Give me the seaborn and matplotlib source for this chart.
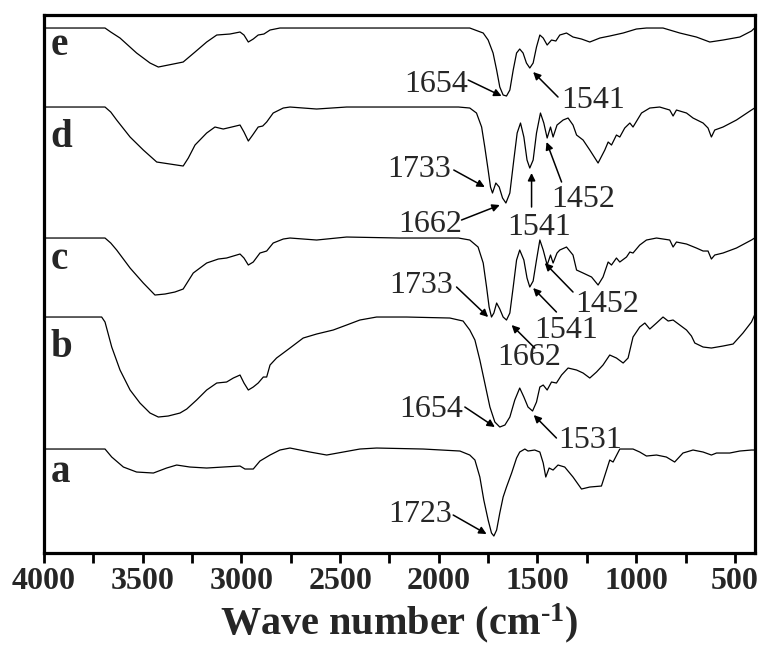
import matplotlib
matplotlib.use("Agg")
import matplotlib.pyplot as plt
import seaborn as sns
from matplotlib.transforms import blended_transform_factory

# ---------------- data ----------------
# wavenumber (cm^-1) and offset transmittance (a.u.) for each spectrum
e_wn = [4000, 3691, 3662, 3615, 3531, 3463, 3421, 3345, 3295, 3235,
        3176, 3125, 3058, 3007, 2987, 2965, 2940, 2915, 2886, 2855,
        2805, 2400, 2000, 1843, 1775, 1750, 1725, 1707, 1691, 1674,
        1657, 1640, 1623, 1606, 1590, 1573, 1556, 1539, 1522, 1505,
        1488, 1471, 1451, 1429, 1407, 1387, 1353, 1320, 1277, 1235,
        1184, 1134, 1066, 999, 948, 864, 779, 695, 627, 560,
        475, 416, 400]
e_val = [525, 525, 521, 515, 500, 490, 486, 489, 491, 501,
         511, 518, 519, 521, 518, 511, 514, 518, 519, 523,
         525, 525, 525, 525, 520, 513, 500, 483, 466, 458,
         457, 463, 483, 500, 504, 500, 490, 485, 490, 506,
         518, 515, 508, 513, 512, 518, 520, 516, 514, 511,
         515, 517, 520, 524, 525, 525, 520, 516, 511, 513,
         516, 522, 525]

d_wn = [4000, 3691, 3662, 3632, 3564, 3497, 3429, 3362, 3295, 3269,
        3235, 3176, 3134, 3092, 3049, 3007, 2987, 2965, 2943, 2915,
        2892, 2872, 2839, 2788, 2754, 2619, 2467, 2200, 1900, 1843,
        1809, 1783, 1767, 1750, 1738, 1728, 1711, 1694, 1677, 1660,
        1640, 1620, 1603, 1586, 1569, 1553, 1539, 1522, 1505, 1485,
        1468, 1451, 1434, 1421, 1401, 1370, 1345, 1320, 1302, 1269,
        1235, 1193, 1159, 1142, 1125, 1100, 1083, 1058, 1032, 1016,
        973, 931, 881, 830, 813, 796, 745, 712, 661, 636,
        619, 602, 560, 492, 416, 400]
d_val = [446, 446, 441, 433, 416, 403, 391, 389, 387, 395,
         408, 420, 426, 424, 426, 428, 421, 412, 418, 426,
         427, 431, 440, 445, 446, 444, 446, 446, 446, 445,
         440, 426, 406, 383, 366, 360, 370, 366, 355, 350,
         360, 393, 420, 430, 416, 393, 385, 393, 420, 440,
         430, 415, 426, 416, 428, 433, 435, 428, 418, 413,
         403, 390, 403, 411, 408, 418, 416, 425, 430, 426,
         440, 445, 446, 443, 437, 443, 440, 435, 430, 425,
         416, 423, 426, 433, 443, 445]

c_wn = [4000, 3691, 3662, 3632, 3564, 3497, 3438, 3387, 3337, 3295,
        3244, 3176, 3117, 3075, 3007, 2987, 2965, 2940, 2906, 2872,
        2839, 2788, 2754, 2619, 2467, 2200, 1900, 1843, 1801, 1775,
        1758, 1745, 1733, 1721, 1707, 1691, 1674, 1657, 1640, 1623,
        1606, 1590, 1569, 1553, 1539, 1522, 1505, 1488, 1471, 1451,
        1434, 1421, 1401, 1387, 1353, 1320, 1302, 1269, 1226, 1193,
        1168, 1142, 1125, 1100, 1083, 1049, 1032, 1016, 982, 948,
        897, 830, 813, 796, 745, 695, 661, 636, 619, 602,
        560, 492, 416, 400]
c_val = [315, 315, 310, 303, 285, 270, 258, 259, 261, 264,
         280, 290, 294, 295, 299, 295, 288, 291, 300, 302,
         310, 314, 315, 313, 316, 315, 315, 313, 306, 290,
         266, 246, 236, 240, 250, 244, 236, 233, 240, 266,
         293, 303, 293, 275, 266, 272, 293, 313, 303, 288,
         298, 290, 300, 303, 306, 298, 283, 280, 276, 268,
         276, 291, 288, 295, 291, 296, 301, 300, 308, 313,
         315, 313, 306, 311, 309, 305, 302, 302, 294, 298,
         300, 305, 313, 315]

b_wn = [4000, 3708, 3691, 3657, 3615, 3564, 3514, 3463, 3421, 3371,
        3311, 3277, 3227, 3176, 3125, 3075, 3041, 3007, 2987, 2965,
        2940, 2915, 2889, 2872, 2855, 2822, 2788, 2754, 2687, 2619,
        2535, 2467, 2400, 2315, 2163, 1944, 1877, 1843, 1817, 1792,
        1767, 1741, 1716, 1691, 1665, 1640, 1615, 1590, 1569, 1548,
        1525, 1505, 1488, 1471, 1451, 1429, 1404, 1378, 1345, 1302,
        1269, 1235, 1201, 1168, 1134, 1100, 1066, 1041, 1016, 982,
        956, 931, 897, 864, 838, 813, 779, 745, 720, 703,
        661, 619, 560, 509, 459, 416, 400]
b_val = [236, 236, 231, 206, 183, 163, 150, 140, 136, 137,
         140, 144, 153, 163, 170, 171, 175, 178, 170, 163,
         166, 170, 176, 176, 188, 195, 200, 205, 215, 219,
         223, 228, 233, 236, 236, 235, 232, 223, 213, 193,
         170, 146, 131, 126, 128, 136, 153, 165, 156, 146,
         142, 151, 166, 168, 163, 171, 170, 178, 185, 183,
         180, 175, 181, 188, 198, 195, 190, 195, 216, 226,
         230, 224, 230, 236, 232, 233, 228, 223, 217, 210,
         206, 205, 207, 209, 220, 231, 238]

a_wn = [4000, 3691, 3657, 3598, 3531, 3446, 3379, 3328, 3261, 3176,
        3092, 3007, 2982, 2940, 2906, 2855, 2805, 2754, 2653, 2568,
        2484, 2400, 2315, 2079, 1893, 1843, 1817, 1792, 1772, 1750,
        1733, 1721, 1707, 1691, 1674, 1657, 1631, 1606, 1590, 1564,
        1548, 1514, 1488, 1471, 1458, 1441, 1421, 1396, 1362, 1320,
        1277, 1235, 1176, 1150, 1134, 1117, 1083, 1016, 982, 948,
        897, 847, 805, 763, 712, 661, 619, 593, 526, 475,
        416, 400]
a_val = [104, 104, 96, 86, 81, 80, 85, 88, 86, 85,
         86, 87, 84, 84, 92, 98, 103, 105, 101, 98,
         101, 104, 105, 104, 102, 98, 93, 76, 53, 33,
         20, 17, 23, 40, 56, 66, 80, 95, 101, 104,
         102, 103, 101, 90, 76, 85, 83, 88, 86, 76,
         64, 66, 67, 83, 93, 91, 104, 104, 101, 97,
         98, 96, 91, 100, 103, 101, 98, 100, 100, 102,
         103, 103]

sample_names = ["e", "d", "c", "b", "a"]
label_levels = [498, 406, 284, 196, 71]   # baseline of the sample letters (a.u.)

tick_values = [4000, 3500, 3000, 2500, 2000, 1500, 1000, 500]
tick_labels = ["4000", "3500", "3000", "2500", "2000", "1500", "1000", "500"]
minor_ticks = [3750, 3250, 2750, 2250, 1750, 1250, 750]

# band annotations: label, text (x, baseline y), arrow tail, arrow head
peak_labels = ["1654", "1541", "1733", "1662", "1541", "1452",
               "1733", "1662", "1541", "1452", "1654", "1531", "1723"]
text_pos = [(2015, 461), (1220, 445), (2101, 376), (2045, 321), (1493, 318), (1270, 346),
            (2088, 260), (1544, 188), (1357, 215), (1146, 241), (2040, 136), (1235, 105),
            (2096, 31)]
arrow_tail = [(1851, 473), (1396, 456), (1924, 383), (1885, 333), (1530, 346), (1378, 371),
              (1910, 266), (1514, 205), (1404, 241), (1320, 261), (1868, 146), (1404, 115),
              (1927, 38)]
arrow_head = [(1682, 457), (1522, 481), (1767, 366), (1691, 348), (1530, 380), (1454, 411),
              (1750, 236), (1631, 228), (1522, 265), (1463, 290), (1716, 126), (1519, 138),
              (1758, 19)]

traces = [(e_wn, e_val), (d_wn, d_val), (c_wn, c_val), (b_wn, b_val), (a_wn, a_val)]

# ---------------- style ----------------
sns.set_style("ticks")
plt.rcParams["font.family"] = ["Liberation Serif", "DejaVu Serif"]
plt.rcParams["mathtext.fontset"] = "custom"
plt.rcParams["mathtext.rm"] = "Liberation Serif:bold"
plt.rcParams["mathtext.it"] = "Liberation Serif:bold"
plt.rcParams["mathtext.bf"] = "Liberation Serif:bold"

fig = plt.figure(figsize=(7.63, 6.53), dpi=100)
ax = fig.add_axes([0.0577, 0.1531, 0.9313, 0.8239])

for wn, val in traces:
    assert len(wn) == len(val)
    sns.lineplot(x=wn, y=val, ax=ax, color="black", lw=0.9,
                 sort=False, estimator=None)

ax.set_xlim(4000, 400)
ax.set_ylim(0, 538)

for s in ax.spines.values():
    s.set_linewidth(2.3)
    s.set_color("black")

ax.set_yticks([])
ax.set_ylabel("")
ax.set_xticks(tick_values)
ax.set_xticklabels(tick_labels, fontsize=23, fontweight="bold")
ax.set_xticks(minor_ticks, minor=True)
ax.tick_params(axis="x", which="both", direction="out", length=7, width=2,
               color="black", pad=3)
ax.set_xlabel("Wave number (cm$^{\\text{-1}}$)", fontsize=29, fontweight="bold",
              labelpad=4)

trans = blended_transform_factory(ax.transAxes, ax.transData)
for name, lvl in zip(sample_names, label_levels):
    ax.text(0.009, lvl, name, transform=trans, fontsize=28, fontweight="bold",
            ha="left", va="baseline")

for lab, tp, tl, hd in zip(peak_labels, text_pos, arrow_tail, arrow_head):
    ax.text(tp[0], tp[1], lab, fontsize=23, ha="center", va="baseline")
    ax.annotate("", xy=hd, xytext=tl,
                arrowprops=dict(arrowstyle="-|>", color="black", lw=1.1,
                                mutation_scale=11, shrinkA=0, shrinkB=0))

fig.savefig("out.png", dpi=100)
